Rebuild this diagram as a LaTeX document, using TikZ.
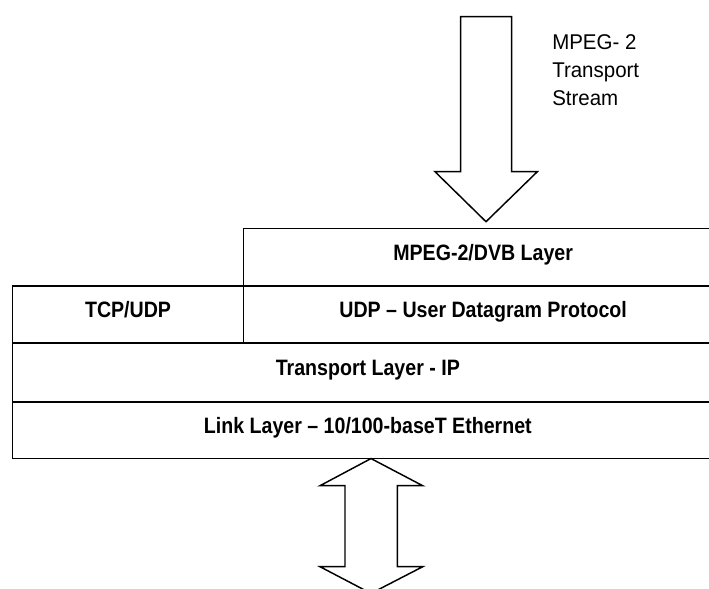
\documentclass[tikz,border=0pt]{standalone}
\usepackage{fontspec}
\setmainfont{Liberation Sans}
\newfontfamily\layerfont[FakeStretch=0.88,Ligatures=TeX]{Liberation Sans}
\newfontfamily\labelfont[FakeStretch=0.96,Ligatures=TeX]{Liberation Sans}
\begin{document}
\begin{tikzpicture}[x=0.75pt,y=-0.75pt,
  layer/.style={draw,line width=1.1pt,rectangle,inner sep=0pt,outer sep=0pt,anchor=north west,
    text height=0.72em,text depth=0.2em,
    font=\layerfont\bfseries\fontsize{16.7pt}{20pt}\selectfont},
  blockarrow/.style={draw,line width=1.1pt,line join=miter,fill=white}]
\useasboundingbox (0,0) rectangle (709,588);
\clip (0,0) rectangle (709,588);
\fill[white] (0,0) rectangle (709,588);
% layers
\node[layer,minimum width=359.8pt,minimum height=43.3pt] (mpeg) at (243.3,228.3) {MPEG-2/DVB Layer};
\node[layer,minimum width=173pt,minimum height=42.75pt] (tcp) at (12.7,286) {TCP/UDP};
\node[layer,minimum width=359.8pt,minimum height=42.75pt] (udp) at (243.3,286) {UDP – User Datagram Protocol};
\node[layer,minimum width=532.7pt,minimum height=44.25pt] (ip) at (12.7,343) {Transport Layer - IP};
\node[layer,minimum width=532.7pt,minimum height=42.4pt] (link) at (12.7,402) {Link Layer – 10/100-baseT Ethernet};
% down arrow
\draw[blockarrow] (460.7,16.7) -- (511.7,16.7) -- (511.7,171.7) -- (537.3,171.7)
  -- (486,221.7) -- (435,171.7) -- (460.7,171.7) -- cycle;
\node[anchor=north west,inner sep=0pt,align=left,
  font=\labelfont\fontsize{16pt}{21pt}\selectfont] (lbl) at (552,34)
  {MPEG- 2\\Transport\\Stream};
% double arrow
\coordinate (top) at (link.south -| 371,0);
\draw[blockarrow] (top) -- (422.7,485.7) -- (397.3,485.7) -- (397.3,566.7) -- (422.7,566.7)
  -- (371,593.4) -- (320,566.7) -- (345,566.7) -- (345,485.7) -- (320,485.7) -- cycle;
\end{tikzpicture}
\end{document}
